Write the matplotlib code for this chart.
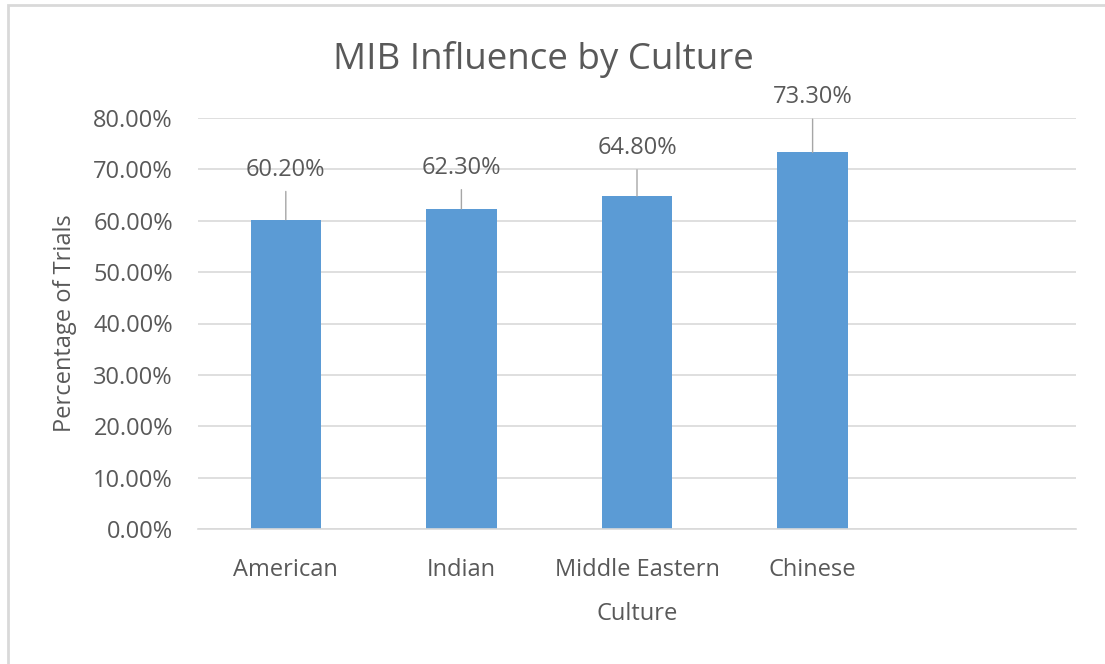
import matplotlib.pyplot as plt
from matplotlib.patches import Rectangle
from matplotlib.ticker import FuncFormatter

cultures = ["American", "Indian", "Middle Eastern", "Chinese", ""]
influence = [60.2, 62.3, 64.8, 73.3, None]
label_offsets = [50, 41, 48, 55]  # px above bar top for the data labels

plt.rcParams['font.family'] = ['Open Sans', 'DejaVu Sans']
text_col = '#595959'
grid_col = '#D9D9D9'
bar_col = '#5B9BD5'

fig = plt.figure(figsize=(11.05, 6.64), dpi=100)
ax = fig.add_axes([198 / 1105, 1 - 529 / 664, (1076 - 198) / 1105, (529 - 118) / 664])

xs = list(range(len(cultures)))
vals = [v if v is not None else 0 for v in influence]
bars = ax.bar(xs, vals, width=0.4, color=bar_col, zorder=2)

ax.set_xlim(-0.5, len(cultures) - 0.5)
ax.set_ylim(0, 80)
ax.set_yticks(range(0, 81, 10))
ax.yaxis.set_major_formatter(FuncFormatter(lambda v, p: f"{v:.2f}%"))
ax.set_xticks(xs)
ax.set_xticklabels(cultures)
ax.grid(axis='y', color=grid_col, linewidth=1.2, zorder=0)
ax.set_axisbelow(True)
for s in ['top', 'right', 'left']:
    ax.spines[s].set_visible(False)
ax.spines['bottom'].set_color(grid_col)
ax.spines['bottom'].set_linewidth(1.2)
ax.tick_params(axis='both', length=0, labelsize=17, colors=text_col)
ax.tick_params(axis='y', pad=18)
ax.tick_params(axis='x', pad=21)

for x, v, off in zip(xs, influence, label_offsets):
    if v is None:
        continue
    ax.annotate(f"{v:.2f}%", xy=(x, v), xytext=(0, off * 0.72), textcoords='offset points',
                ha='center', va='center', fontsize=17, color=text_col,
                arrowprops=dict(arrowstyle='-', color='#A6A6A6', lw=1, shrinkA=5, shrinkB=0))

ax.set_xlabel("Culture", fontsize=17, color=text_col, labelpad=14)
ax.set_ylabel("Percentage of Trials", fontsize=17, color=text_col, labelpad=12)
fig.text(543 / 1105, 1 - 59 / 664, "MIB Influence by Culture", ha='center', va='center',
         fontsize=26.5, color=text_col)

fig.patches.append(Rectangle((7.5 / 1105, -0.1), 1.2, 1 - 5.5 / 664 + 0.1, transform=fig.transFigure,
                             fill=False, edgecolor=grid_col, linewidth=2))

fig.savefig("out.png", dpi=100)
